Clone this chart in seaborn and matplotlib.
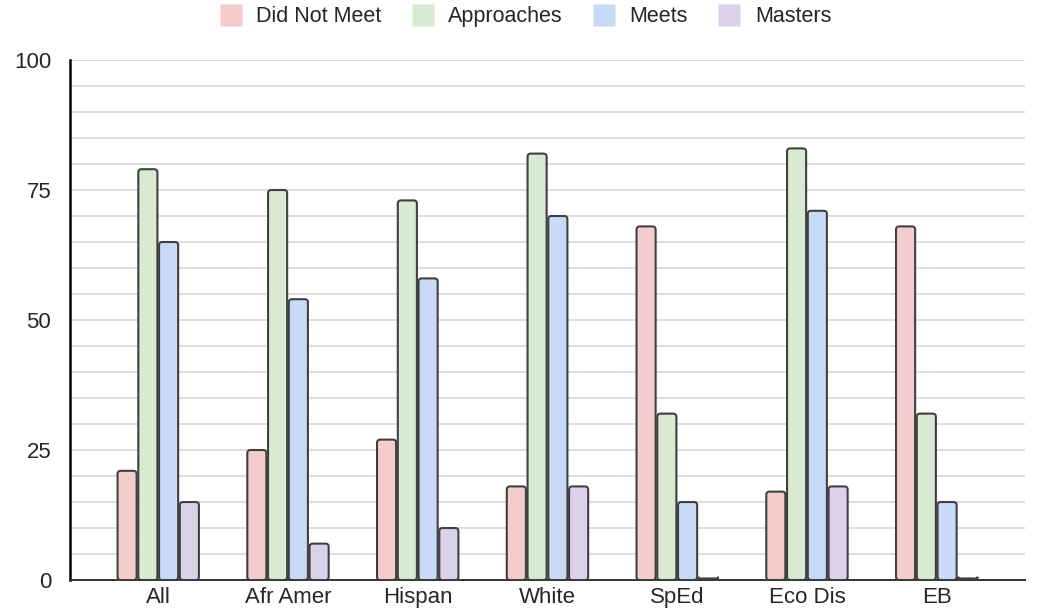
import matplotlib
matplotlib.use("Agg")
import matplotlib.pyplot as plt
import numpy as np
import pandas as pd
import seaborn as sns
from matplotlib.lines import Line2D
from matplotlib.patches import FancyBboxPatch

GROUPS = ["All", "Afr Amer", "Hispan", "White", "SpEd", "Eco Dis", "EB"]
SERIES = ["Did Not Meet", "Approaches", "Meets", "Masters"]
DID_NOT_MEET = [21, 25, 27, 18, 68, 17, 68]
APPROACHES = [79, 75, 73, 82, 32, 83, 32]
MEETS = [65, 54, 58, 70, 15, 71, 15]
MASTERS = [15, 7, 10, 18, 0.3, 18, 0.3]
COLORS = ["#f4cccc", "#d9ead3", "#c9daf8", "#d9d2e9"]

sns.set_theme(style="white")
plt.rcParams["font.family"] = ["Liberation Sans", "DejaVu Sans"]

df = pd.DataFrame({
    "group": GROUPS * 4,
    "series": [s for s in SERIES for _ in GROUPS],
    "value": DID_NOT_MEET + APPROACHES + MEETS + MASTERS,
})

fig = plt.figure(figsize=(10.48, 6.16), dpi=100)
ax = fig.add_axes([0.0668, 0.0584, 0.9112, 0.8442])

sns.barplot(data=df, x="group", y="value", hue="series", hue_order=SERIES,
            palette=COLORS, width=0.64, gap=0.08, edgecolor="#404040",
            linewidth=1.5, ax=ax, legend=False, saturation=1)

# rounded tops, like the original chart
ax.set_xlim(-0.68, 6.68)
ax.set_ylim(0, 100)
aspect = (100 / 520) / (7.36 / 955)
new = []
for p in list(ax.patches):
    x, y = p.get_x(), p.get_y()
    w, h = p.get_width(), p.get_height()
    if h <= 0:
        continue
    fb = FancyBboxPatch((x, y), w, h, boxstyle="round,pad=0,rounding_size=0.025",
                        mutation_aspect=aspect,
                        facecolor=p.get_facecolor(), edgecolor=p.get_edgecolor(),
                        linewidth=1.5, zorder=3)
    new.append(fb)
    p.remove()
for fb in new:
    ax.add_patch(fb)

ax.set_yticks([0, 25, 50, 75, 100])
ax.set_yticks(np.arange(0, 101, 5), minor=True)
ax.grid(axis="y", which="both", color="#dddddd", linewidth=1.4, zorder=0)
ax.set_axisbelow(True)
ax.set_xlabel("")
ax.set_ylabel("")

for s in ["top", "right"]:
    ax.spines[s].set_visible(False)
ax.spines["left"].set_color("black")
ax.spines["left"].set_linewidth(1.8)
ax.spines["bottom"].set_color("#333333")
ax.spines["bottom"].set_linewidth(1.4)
ax.tick_params(axis="y", which="major", direction="inout", length=15, width=1.8,
               color="black", labelsize=16, pad=6)
ax.tick_params(axis="y", which="minor", length=0)
ax.tick_params(axis="x", length=0, labelsize=16, pad=5)

handles = [Line2D([], [], linestyle="none", marker="s", markersize=16,
                  markerfacecolor=c, markeredgecolor="none") for c in COLORS]
ax.legend(handles, SERIES, loc="center", bbox_to_anchor=(0.477, 1.083), ncol=4,
          frameon=False, fontsize=15.5, handlelength=1.0, handletextpad=0.7,
          columnspacing=1.4)

fig.savefig("out.png", dpi=100)
